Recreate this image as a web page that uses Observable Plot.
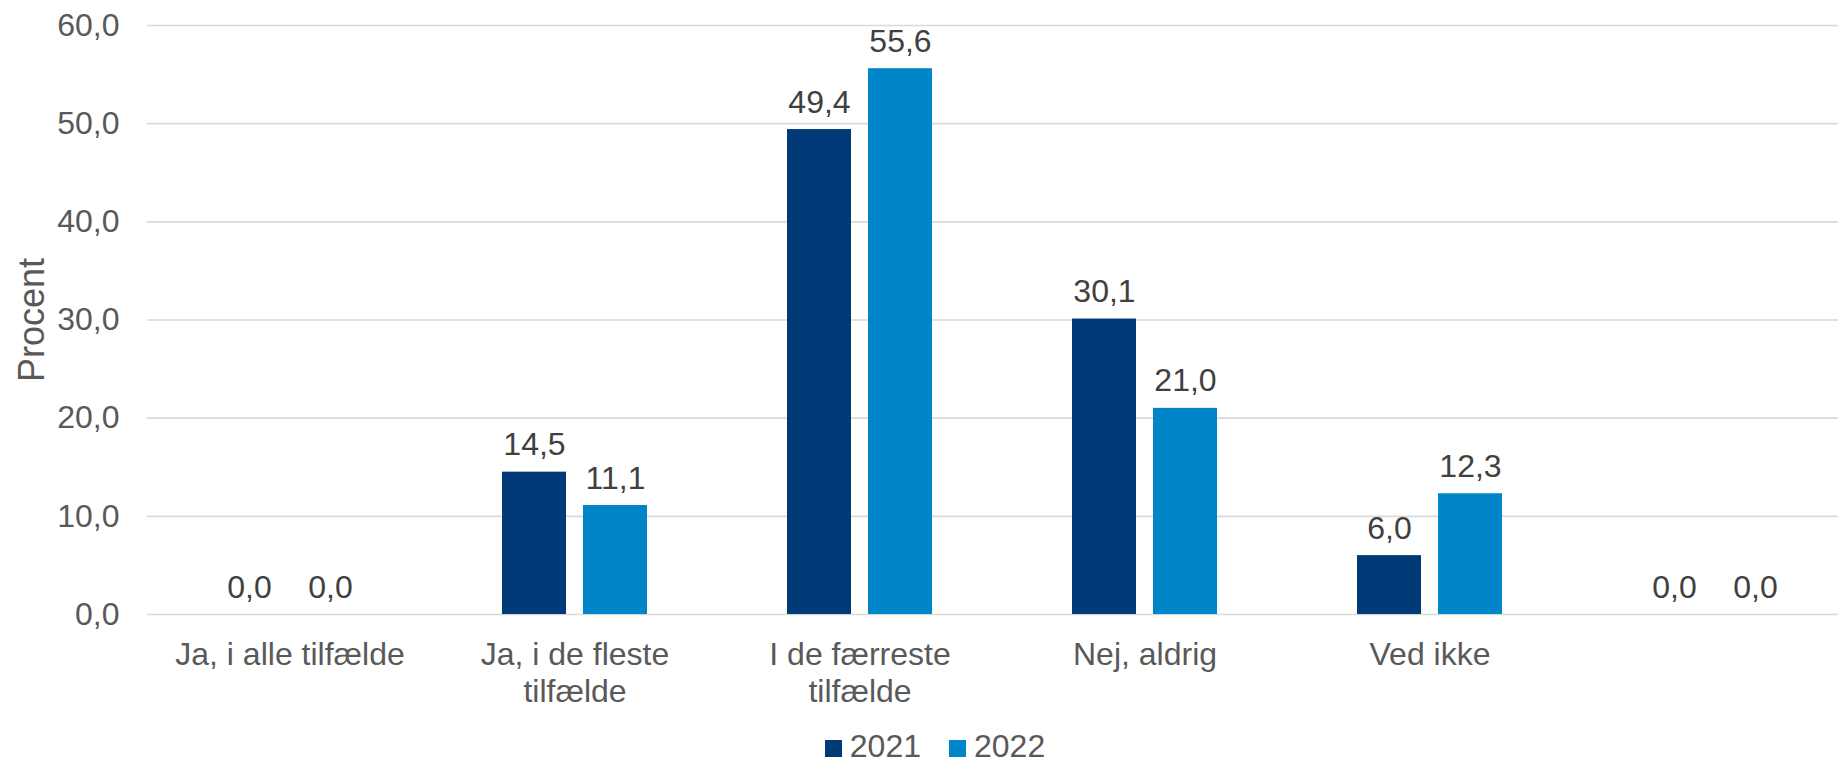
<!DOCTYPE html>
<html>
<head>
<meta charset="utf-8">
<script src="https://cdn.jsdelivr.net/npm/d3@7"></script>
<script src="https://cdn.jsdelivr.net/npm/@observablehq/plot@0.6"></script>
<style>
  html, body { margin: 0; padding: 0; background: #fff; overflow: hidden; }
  body { width: 1838px; height: 761px; font-family: "Liberation Sans", Arial, sans-serif; }
  #legend { display: flex; justify-content: center; padding-left: 32px; padding-top: 10px;
            font-size: 32px; line-height: 32px; color: #595959; }
  .item { display: flex; align-items: baseline; margin: 0 14px; }
  .sw { display: inline-block; width: 17px; height: 17px; margin-right: 8px; }
</style>
</head>
<body>
<div id="chart"></div>
<div id="legend"></div>
<script>
const categories = ["Ja, i alle tilfælde", "Ja, i de fleste tilfælde", "I de færreste tilfælde", "Nej, aldrig", "Ved ikke", "(tom)"];
const categoryLabels = ["Ja, i alle tilfælde", "Ja, i de fleste\ntilfælde", "I de færreste\ntilfælde", "Nej, aldrig", "Ved ikke", ""];
const years = ["2021", "2022"];
const values2021 = [0.0, 14.5, 49.4, 30.1, 6.0, 0.0];
const values2022 = [0.0, 11.1, 55.6, 21.0, 12.3, 0.0];
const yTicks = [0, 10, 20, 30, 40, 50, 60];
const colors = ["#003B77", "#0085C9"];

const locale = d3.formatLocale({decimal: ",", thousands: ".", grouping: [3], currency: ["", " kr."]});
const fmt = locale.format(".1f");
const labelOf = new Map(categories.map((c, i) => [c, categoryLabels[i]]));

const data = [];
categories.forEach((c, i) => {
  data.push({category: c, year: years[0], value: values2021[i]});
  data.push({category: c, year: years[1], value: values2022[i]});
});

const chart = Plot.plot({
  width: 1838,
  height: 720,
  marginLeft: 145,
  marginRight: -20,
  marginTop: 25,
  marginBottom: 106,
  style: {fontFamily: "'Liberation Sans', Arial, sans-serif", background: "white", overflow: "hidden"},
  fx: {domain: categories, padding: 0, axis: null},
  x: {domain: years, paddingInner: 0.214, paddingOuter: 0.86, axis: null},
  y: {domain: [0, 60], axis: null},
  color: {domain: years, range: colors},
  marks: [
    Plot.gridY(yTicks, {stroke: "#d9d9d9", strokeOpacity: 1, strokeWidth: 1.6}),
    Plot.barY(data, {fx: "category", x: "year", y: "value", fill: "year"}),
    Plot.text(data, {fx: "category", x: "year", y: "value", text: d => fmt(d.value),
      lineAnchor: "bottom", dy: -17, fontSize: 32, fill: "#404040"}),
    Plot.axisY({ticks: yTicks, tickFormat: fmt, tickSize: 0, tickPadding: 28,
      fontSize: 32, fill: "#595959", label: null}),
    Plot.axisFx({anchor: "bottom", tickSize: 0, tickPadding: 25, fontSize: 32, lineHeight: 1.14,
      fill: "#595959", label: null, tickFormat: c => labelOf.get(c)}),
    Plot.text(["Procent"], {frameAnchor: "left", textAnchor: "middle", rotate: -90, dx: -104, lineAnchor: "bottom",
      fontSize: 36, fill: "#595959", facet: "super"})
  ]
});
document.getElementById("chart").appendChild(chart);

const legend = document.getElementById("legend");
years.forEach((y, i) => {
  const item = document.createElement("span");
  item.className = "item";
  const sw = document.createElement("span");
  sw.className = "sw";
  sw.style.background = colors[i];
  item.appendChild(sw);
  item.appendChild(document.createTextNode(y));
  legend.appendChild(item);
});
</script>
</body>
</html>
